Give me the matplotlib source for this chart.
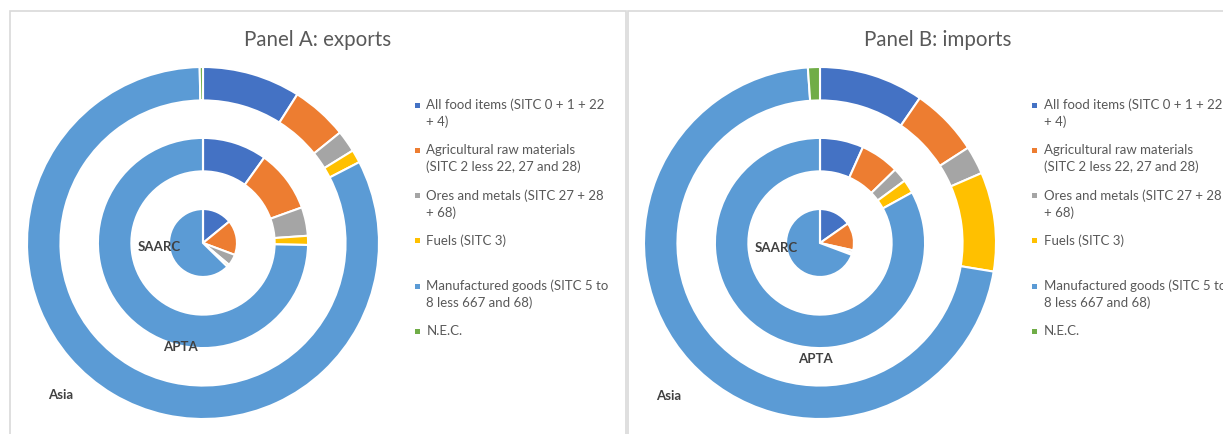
import matplotlib.pyplot as plt
from matplotlib.patches import Rectangle

plt.rcParams["font.family"] = ["Lato", "DejaVu Sans"]

# =============================================================================
# data (shares in %)
# =============================================================================

categories = [
    "All food items",
    "Agricultural raw materials",
    "Ores and metals",
    "Fuels",
    "Manufactured goods",
    "N.E.C.",
]
legend_labels = [
    "All food items (SITC 0 + 1 + 22\n+ 4)",
    "Agricultural raw materials\n(SITC 2 less 22, 27 and 28)",
    "Ores and metals (SITC 27 + 28\n+ 68)",
    "Fuels (SITC 3)",
    "Manufactured goods (SITC 5 to\n8 less 667 and 68)",
    "N.E.C.",
]
colors = ["#4472C4", "#ED7D31", "#A5A5A5", "#FFC000", "#5B9BD5", "#70AD47"]
ring_names = ["SAARC", "APTA", "Asia"]
panel_titles = ["Panel A: exports", "Panel B: imports"]

exports_saarc = [14.1, 16.6, 5.4, 1.2, 62.7, 0.0]
exports_apta = [9.9, 9.6, 4.4, 1.4, 74.7, 0.0]
exports_asia = [9.0, 5.2, 2.0, 1.2, 82.3, 0.3]

imports_saarc = [15.3, 13.2, 1.2, 1.0, 69.3, 0.0]
imports_apta = [6.7, 6.0, 2.2, 2.1, 83.0, 0.0]
imports_asia = [9.6, 6.3, 2.6, 9.1, 71.3, 1.1]

panels = [
    [exports_saarc, exports_apta, exports_asia],
    [imports_saarc, imports_apta, imports_asia],
]

# =============================================================================
# layout (pixels)
# =============================================================================

W, H = 1223, 435
R_PX = 176
centers = [(203, 244), (820, 244)]
legend_x = [417, 1034]
legend_y0 = 106
legend_step = 45.3
title_x = [318, 938]

# ring geometry in axes units (outer radius = 1)
radii = [0.193, 0.597, 1.0]
widths = [None, 0.19, 0.19]
# ring name label positions (data units)
name_pos = [
    [(-0.25, -0.015), (-0.13, -0.585), (-0.81, -0.86)],
    [(-0.25, -0.025), (-0.025, -0.655), (-0.86, -0.865)],
]

fig = plt.figure(figsize=(W / 100, H / 100), dpi=100)


def fx(px):
    return px / W


def fy(py):
    return 1 - py / H


# panel frames
fig.add_artist(Rectangle((fx(10), fy(440)), fx(616), fy(12) - fy(440),
                         transform=fig.transFigure, fill=False,
                         edgecolor="#d9d9d9", lw=1.2))
fig.add_artist(Rectangle((fx(628), fy(440)), fx(700), fy(12) - fy(440),
                         transform=fig.transFigure, fill=False,
                         edgecolor="#d9d9d9", lw=1.2))

for p, rings in enumerate(panels):
    cx, cy = centers[p]
    ax = fig.add_axes([fx(cx - R_PX), fy(cy + R_PX), 2 * R_PX / W, 2 * R_PX / H])
    for r, vals in enumerate(rings):
        wp = {"edgecolor": "white", "linewidth": 1.5}
        if widths[r] is not None:
            wp["width"] = widths[r]
        ax.pie(
            vals,
            colors=colors,
            radius=radii[r],
            startangle=90,
            counterclock=False,
            wedgeprops=wp,
        )
    for r, name in enumerate(ring_names):
        x, y = name_pos[p][r]
        ax.text(x, y, name, ha="center", va="center", fontsize=9.5,
                fontweight="bold", color="#404040")
    ax.set_xlim(-1, 1)
    ax.set_ylim(-1, 1)
    ax.set_aspect("equal")
    ax.axis("off")

    # title
    fig.text(fx(title_x[p]), fy(40), panel_titles[p], ha="center", va="center",
             fontsize=14.8, color="#595959")

    # legend
    for i, label in enumerate(legend_labels):
        y = legend_y0 + i * legend_step
        fig.add_artist(Rectangle((fx(legend_x[p] - 2.5), fy(y + 2.5)), 5 / W, 5 / H,
                                 transform=fig.transFigure, color=colors[i], lw=0))
        fig.text(fx(legend_x[p] + 9.5), fy(y - 7.5), label, ha="left", va="top",
                 fontsize=9.5, color="#595959", linespacing=1.42)

fig.savefig("out.png", dpi=100)
